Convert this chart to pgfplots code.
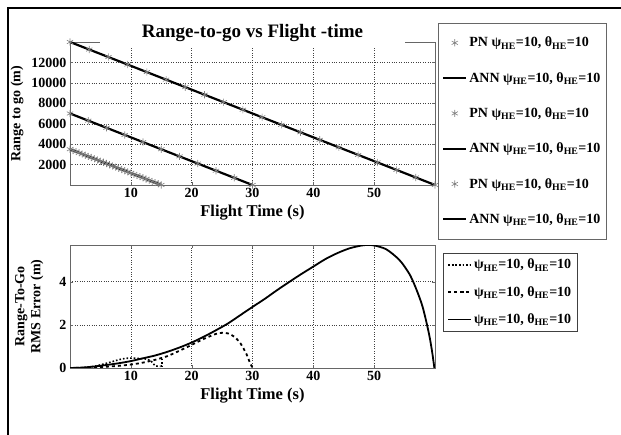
\documentclass[border=0pt]{standalone}
\usepackage{fontspec}
\setmainfont{Liberation Serif}
\usepackage{pgfplots}
\pgfplotsset{compat=1.18}
\begin{document}
\begin{tikzpicture}[font=\fontsize{14}{16}\selectfont\bfseries]
\useasboundingbox (0,0) rectangle (621pt,435pt);
\draw[line width=2pt] (8pt,0pt) -- (8pt,427pt) -- (621pt,427pt);
\pgfplotsset{
  every axis/.append style={
    scale only axis, width=365pt, xmin=0, xmax=60,
    xtick={10,20,30,40,50},
    grid=major, grid style={dotted, black!75},
    axis line style={black!60}, tick style={black!60},
    tick align=inside, major tick length=3pt,
    /pgf/number format/assume math mode=true,
    /pgf/number format/1000 sep={},
    scaled y ticks=false,
    ticklabel style={font=\fontsize{14}{16}\selectfont\bfseries},
    xlabel style={font=\fontsize{16.5}{18}\selectfont\bfseries},
    ylabel style={font=\fontsize{17}{18.5}\selectfont\bfseries},
    legend cell align=left,
    legend image code/.code={\draw[mark repeat=2,mark phase=2,##1] plot coordinates {(0pt,0pt) (11.5pt,0pt) (23pt,0pt)};},
  }
}
\begin{axis}[at={(70pt,250pt)}, anchor=south west, height=143pt,
  ymin=0, ymax=14000, ytick={2000,4000,6000,8000,10000,12000},
  xlabel={Flight Time (s)}, ylabel={Range to go (m)},
  every axis y label/.style={at={(axis description cs:-0.145,0.5)}, rotate=90, anchor=center},
  title={Range-to-go vs Flight -time},
  every axis title/.style={at={(axis description cs:0.5,1)}, anchor=base, yshift=4pt, fill=white, inner xsep=42pt, inner ysep=4pt, font=\fontsize{19}{21}\selectfont\bfseries},
  legend style={at={(1.0082,1.133)}, anchor=north west, draw=black!60, fill=white, row sep=20pt, inner xsep=4pt, inner ysep=12pt,
    font=\fontsize{14}{16}\selectfont\bfseries},
]
\addplot[only marks, mark=asterisk, mark size=3.6pt, black!50, mark options={line width=0.6pt}] coordinates {
(0,3500) (0.5,3383) (1,3267) (1.5,3150) (2,3033) (2.5,2917) (3,2800) (3.5,2683) (4,2567) (4.5,2450) (5,2333) (5.5,2217) (6,2100) (6.5,1983) (7,1867) (7.5,1750) (8,1633) (8.5,1517) (9,1400) (9.5,1283) (10,1167) (10.5,1050) (11,933) (11.5,817) (12,700) (12.5,583) (13,467) (13.5,350) (14,233) (14.5,117) (15,0)};
\addlegendentry{PN ψ\textsubscript{HE}=10, θ\textsubscript{HE}=10}
\addplot[black, line width=2.2pt] coordinates {(0,3500) (15,0)};
\addlegendentry{ANN ψ\textsubscript{HE}=10, θ\textsubscript{HE}=10}
\addplot[only marks, mark=asterisk, mark size=3.6pt, black!50, mark options={line width=0.6pt}] coordinates {
(0,7000) (3,6300) (6,5600) (9,4900) (12,4200) (15,3500) (18,2800) (21,2100) (24,1400) (27,700) (30,0)};
\addlegendentry{PN ψ\textsubscript{HE}=10, θ\textsubscript{HE}=10}
\addplot[black, line width=2.2pt] coordinates {(0,7000) (30,0)};
\addlegendentry{ANN ψ\textsubscript{HE}=10, θ\textsubscript{HE}=10}
\addplot[only marks, mark=asterisk, mark size=3.6pt, black!50, mark options={line width=0.6pt}] coordinates {
(0,14000) (3.16,13263) (6.32,12525) (9.47,11790) (12.63,11053) (15.79,10316) (18.95,9578) (22.11,8841) (25.26,8106) (28.42,7369) (31.58,6631) (34.74,5894) (37.89,5159) (41.05,4422) (44.21,3684) (47.37,2947) (50.53,2210) (53.68,1475) (56.84,737) (60,0)};
\addlegendentry{PN ψ\textsubscript{HE}=10, θ\textsubscript{HE}=10}
\addplot[black, line width=2.2pt] coordinates {(0,14000) (60,0)};
\addlegendentry{ANN ψ\textsubscript{HE}=10, θ\textsubscript{HE}=10}
\end{axis}
\begin{axis}[at={(70pt,67pt)}, anchor=south west, height=123pt,
  ymin=0, ymax=5.7, ytick={0,2,4},
  xlabel={Flight Time (s)}, ylabel={Range-To-Go\\RMS Error (m)},
  every axis y label/.style={at={(axis description cs:-0.112,0.5)}, rotate=90, anchor=center, align=center},
  legend style={at={(1.022,0.935)}, anchor=north west, draw=black!75, fill=white, row sep=12pt, inner xsep=4pt, inner ysep=4pt,
    font=\fontsize{14}{16}\selectfont\bfseries},
]
\addplot[black, dotted, line width=1.6pt, smooth] coordinates {
(0,0) (2,0.01) (4,0.08) (6,0.22) (8,0.38) (9,0.44) (10,0.46) (11,0.45) (12,0.43) (12.8,0.4) (13.4,0.3) (14,0.1) (14.9,0.08)};
\addlegendentry{ψ\textsubscript{HE}=10, θ\textsubscript{HE}=10}
\addplot[black, dashed, line width=1.8pt, smooth] coordinates {
(0,0) (2,0.01) (4,0.03) (6,0.06) (8,0.1) (10,0.16) (12,0.25) (14,0.38) (16,0.55) (18,0.8) (20,1.07) (22,1.35) (24,1.58) (25,1.63) (26,1.6) (27,1.45) (28,1.15) (29,0.65) (29.5,0.3) (30,0)};
\addlegendentry{ψ\textsubscript{HE}=10, θ\textsubscript{HE}=10}
\addplot[black, line width=1.8pt, smooth] coordinates {
(0,0) (2,0.02) (4,0.07) (6,0.14) (8,0.22) (10,0.32) (12,0.45) (14,0.58) (16,0.75) (18,0.95) (20,1.18) (22,1.45) (24,1.75) (26,2.07) (28,2.45) (30,2.83) (32,3.2) (34,3.6) (36,3.98) (38,4.35) (40,4.7) (42,5.05) (44,5.33) (46,5.55) (48,5.68) (49,5.7) (50,5.68) (52,5.5) (54,5.05) (55,4.7) (56,4.25) (57,3.6) (58,2.8) (59,1.6) (59.5,0.8) (59.9,0)};
\addlegendentry{ψ\textsubscript{HE}=10, θ\textsubscript{HE}=10}
\addplot[black, dotted, line width=1.6pt, forget plot] coordinates {(14.9,0.08) (15.1,0.08) (15.1,0.42)};
\end{axis}
\end{tikzpicture}
\end{document}
